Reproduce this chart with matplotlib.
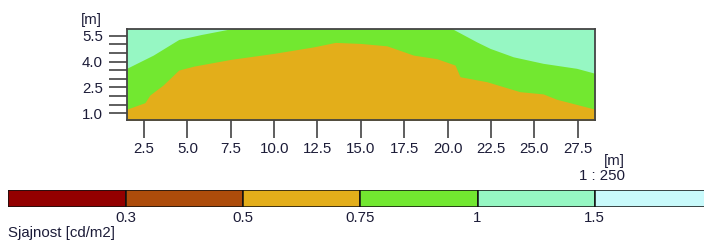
import numpy as np
import matplotlib.pyplot as plt
from matplotlib.ticker import FixedLocator

plt.rcParams['font.family'] = ['Liberation Sans', 'DejaVu Sans']

# contour boundaries (x in m, height in m)
x_low = [1.5, 2.55, 2.84, 3.6, 4.5, 5.38, 7.49, 9.98, 12.28, 13.53, 14.97,
         16.5, 18.03, 19.38, 20.43, 20.72, 22.26, 24.17, 25.51, 26.28, 28.5]
y_low = [1.23, 1.61, 2.06, 2.64, 3.51, 3.74, 4.13, 4.48, 4.86, 5.12, 5.06,
         4.92, 4.38, 4.17, 3.8, 3.12, 2.83, 2.25, 2.12, 1.81, 1.23]

x_mid = [1.5, 3.03, 4.5, 5.8, 7.7, 20.2, 21.68, 22.45, 23.79, 25.51, 27.44, 28.5]
y_mid = [3.61, 4.38, 5.29, 5.58, 5.95, 5.95, 5.15, 4.77, 4.28, 3.9, 3.61, 3.32]

# legend classes
levels = ["0.3", "0.5", "0.75", "1", "1.5"]
class_colors = ["#930000", "#AD4C0B", "#E3AE1A", "#72E830", "#96F7C3", "#C9FAFB"]

TXT = "#1c1c38"
FS = 10.8
W, H = 704, 240
fig = plt.figure(figsize=(W / 100, H / 100), dpi=100)

ax = fig.add_axes([126.7 / W, 1 - 120 / H, (595 - 126.7) / W, (120 - 29) / H])
ax.set_facecolor(class_colors[4])
ax.fill_between(x_mid, 0, y_mid, color=class_colors[3], lw=0, zorder=0.5)
ax.fill_between(x_low, 0, y_low, color=class_colors[2], lw=0, zorder=0.6)
ax.set_xlim(1.5, 28.5)
ax.set_ylim(0.6, 5.9)
ax.xaxis.set_major_locator(FixedLocator(np.arange(2.5, 28, 2.5)))
ax.yaxis.set_major_locator(FixedLocator([1.0, 2.5, 4.0, 5.5]))
ax.yaxis.set_minor_locator(FixedLocator(np.arange(1.0, 5.6, 0.5)))
ax.xaxis.set_major_formatter(lambda v, p: f"{v:.1f}")
ax.yaxis.set_major_formatter(lambda v, p: f"{v:.1f}")
ax.tick_params(axis='both', which='both', direction='out', length=13,
               width=1.1, color='#333333', labelsize=FS, labelcolor=TXT)
ax.tick_params(axis='x', pad=3)
ax.tick_params(axis='y', pad=4)
for s in ax.spines.values():
    s.set_color('#444444')
    s.set_linewidth(1.3)

fig.text(102 / W, 1 - 20 / H, "[m]", ha='right', va='center', fontsize=FS, color=TXT)
fig.text(625 / W, 1 - 161 / H, "[m]", ha='right', va='center', fontsize=FS, color=TXT)
fig.text(625 / W, 1 - 176 / H, "1 : 250", ha='right', va='center', fontsize=FS, color=TXT)

# legend bar
seg = 117.3
cax = fig.add_axes([8.3 / W, 1 - 207.3 / H, 6 * seg / W, 17.3 / H])
cax.bar(np.arange(6), 1, width=1, align='edge', color=class_colors,
        edgecolor='#111111', lw=1.1)
cax.set_xlim(0, 6)
cax.set_ylim(0, 1)
cax.axis('off')
for i, lab in enumerate(levels):
    fig.text((8.3 + (i + 1) * seg) / W, 1 - 218 / H, lab, ha='center',
             va='center', fontsize=FS, color=TXT)
fig.text(8 / W, 1 - 226.5 / H, "Sjajnost [cd/m2]", ha='left', va='top',
         fontsize=FS, color=TXT)

fig.savefig("out.png", dpi=100)
